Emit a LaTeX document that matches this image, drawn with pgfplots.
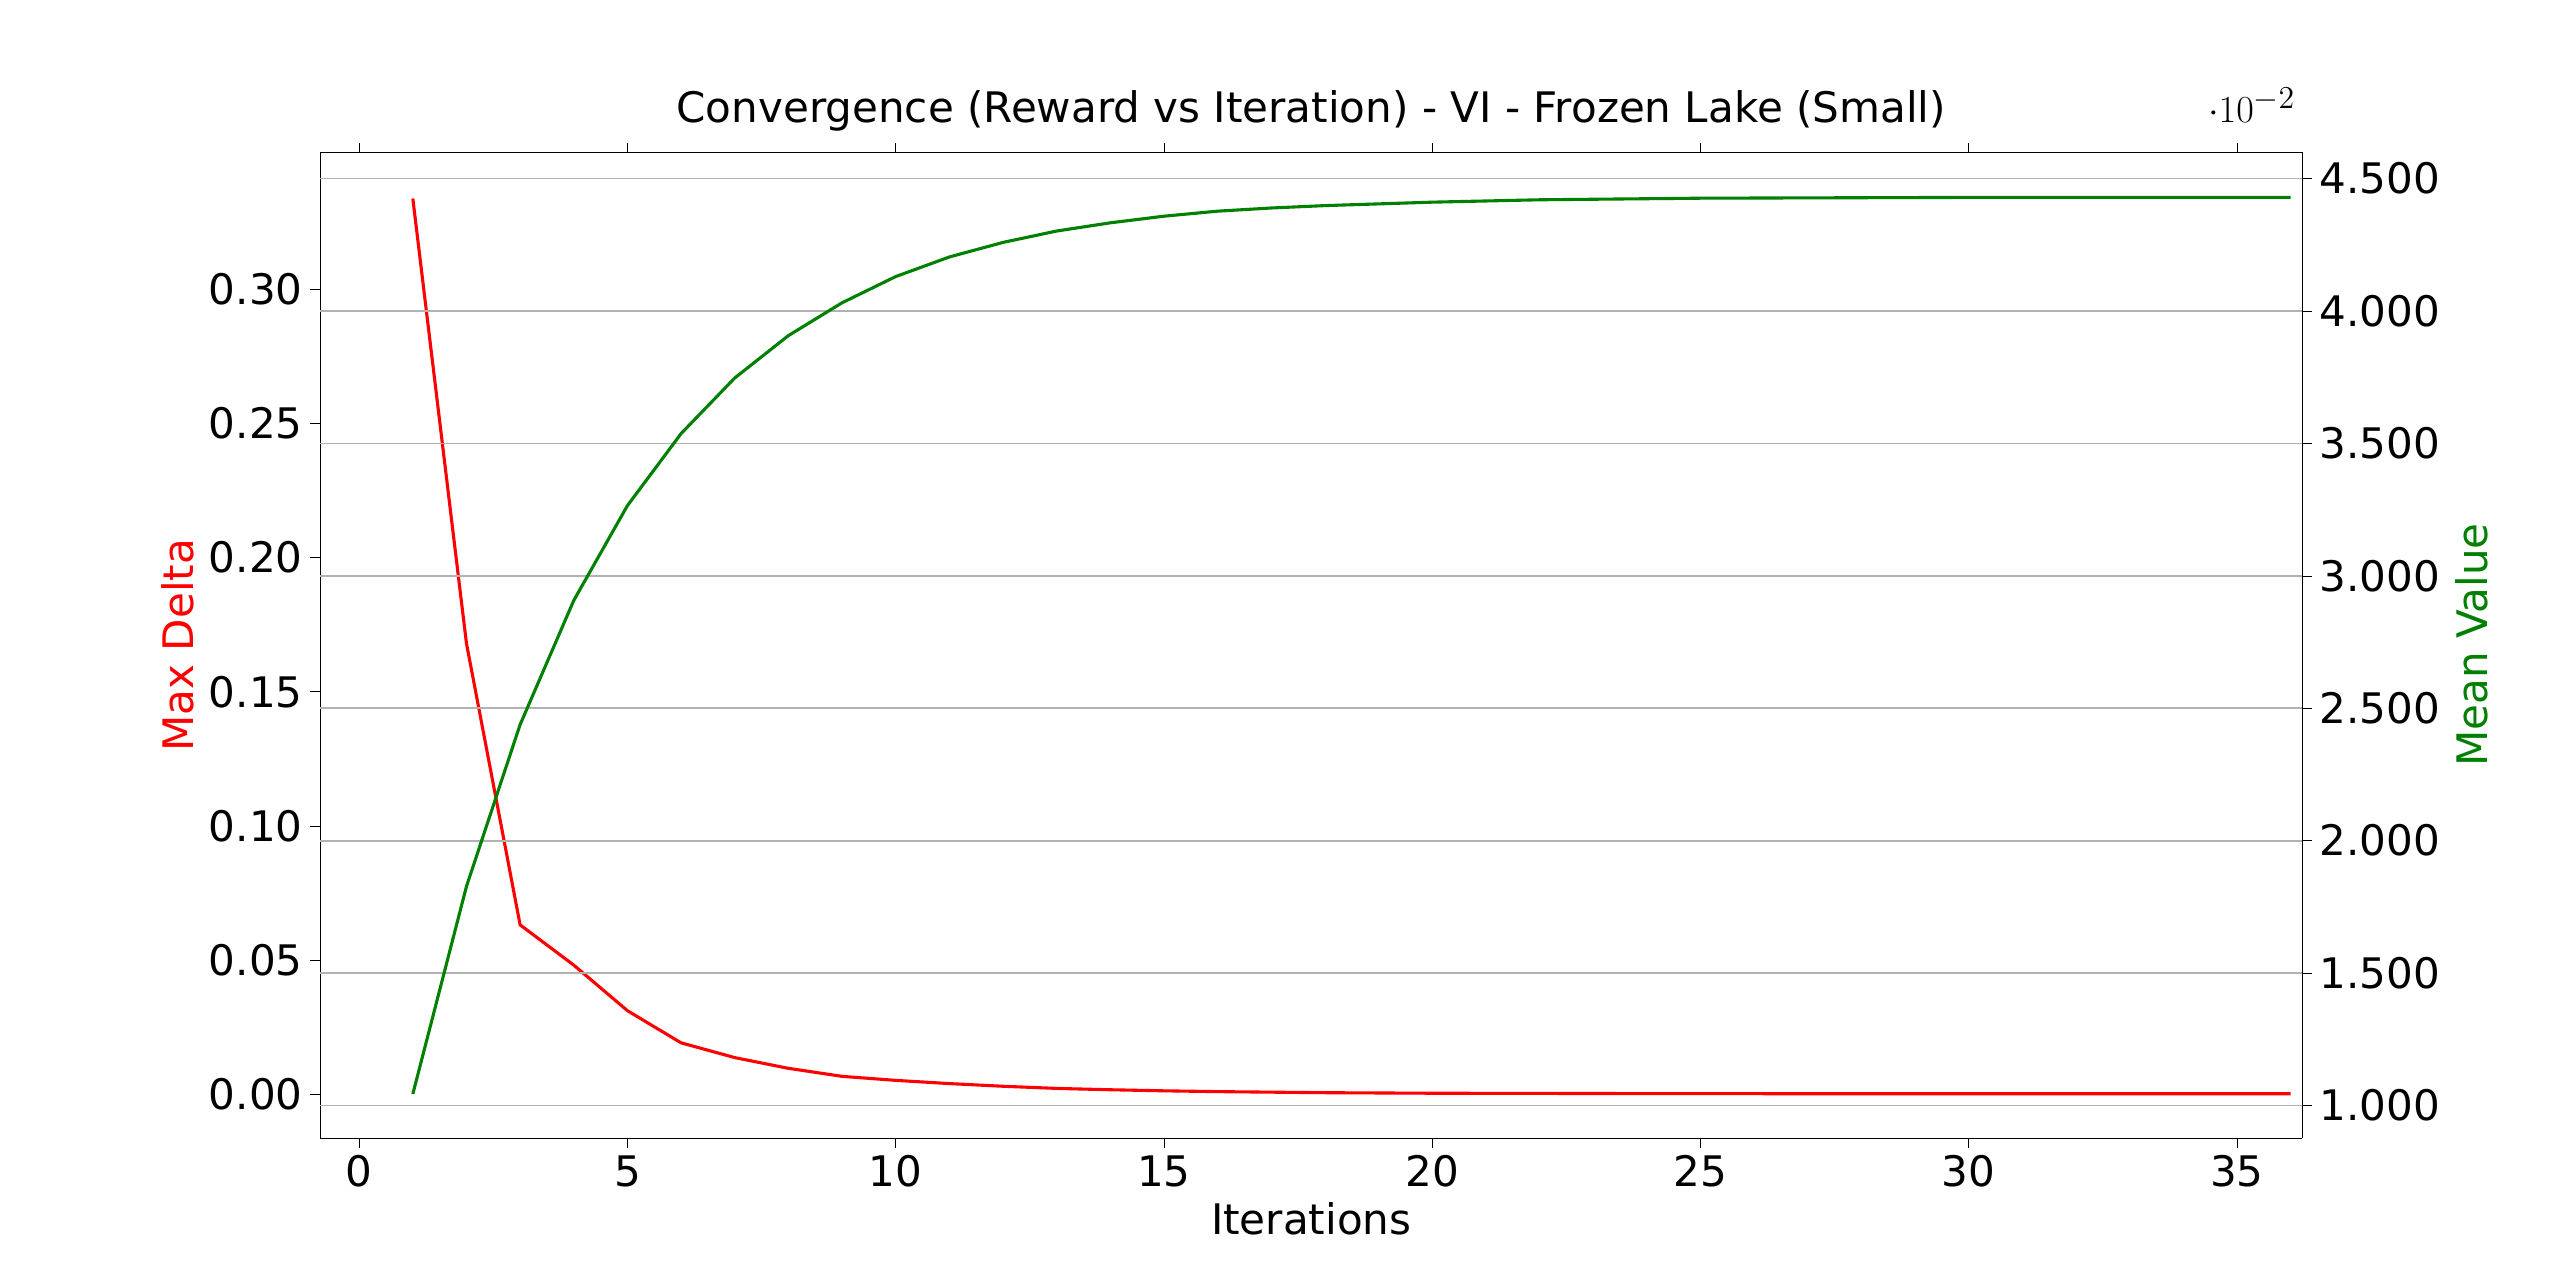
\documentclass[border=0pt]{standalone}
\usepackage{fontspec}
\setmainfont{DejaVu Sans}
\usepackage{pgfplots}
\pgfplotsset{compat=1.18}
\begin{document}
\begin{tikzpicture}
\path[use as bounding box] (0,0) rectangle (16in,8in);
\pgfplotsset{every axis/.append style={font=\fontsize{19}{22}\selectfont, scale only axis, width=12.39in, height=6.16in,
  xmin=-0.73, xmax=36.22, /pgf/number format/assume math mode=true, tick style={black}, major tick length=0.06in,
  at={(2.0in,0.8875in)}, anchor=south west}}
\begin{axis}[axis y line*=left, ymin=-0.0165, ymax=0.3512,
  ytick={0,0.05,...,0.30}, yticklabel style={/pgf/number format/fixed,/pgf/number format/fixed zerofill,/pgf/number format/precision=2},
  xtick={0,5,...,35}, xlabel={Iterations}, ylabel={Max Delta}, ylabel style={text=red},
  title={Convergence (Reward vs Iteration) - VI - Frozen Lake (Small)}, tick align=outside]
\addplot[red, line width=1.4pt] coordinates {(1,0.334)(2,0.168)(3,0.063)(4,0.048)(5,0.031)(6,0.019)(7,0.0135)(8,0.0095)(9,0.0065)(10,0.005)(11,0.0038)(12,0.0028)(13,0.002)(14,0.0015)(15,0.0011)(16,0.0008)(17,0.0006)(18,0.0004)(20,0.0002)(25,0.00003)(36,0)};
\end{axis}
\begin{axis}[axis y line*=right, axis x line=none, ymin=0.00877, ymax=0.04599,
  ytick={0.010,0.015,...,0.045}, yticklabel style={/pgf/number format/fixed,/pgf/number format/fixed zerofill,/pgf/number format/precision=3},
  ymajorgrids, grid style={gray!60, line width=0.8pt}, ylabel={Mean Value}, ylabel style={text=green!50!black}, tick align=outside]
\addplot[green!50!black, line width=1.4pt] coordinates {(1,0.01043)(2,0.01827)(3,0.02438)(4,0.02907)(5,0.03265)(6,0.03537)(7,0.03747)(8,0.03907)(9,0.04031)(10,0.04130)(11,0.04204)(12,0.04259)(13,0.04302)(14,0.04333)(15,0.04358)(16,0.04377)(17,0.04389)(18,0.04398)(20,0.04411)(22,0.0442)(25,0.04426)(30,0.04429)(36,0.04429)};
\end{axis}
\end{tikzpicture}
\end{document}
